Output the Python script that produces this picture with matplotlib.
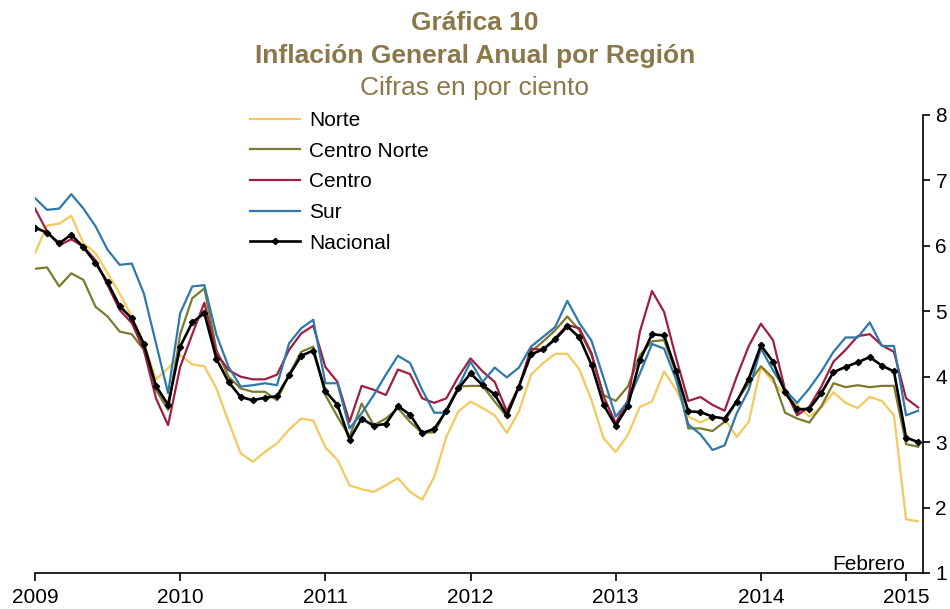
import numpy as np
import matplotlib
matplotlib.use('Agg')
import matplotlib.pyplot as plt

plt.rcParams['font.family'] = ['Liberation Sans', 'DejaVu Sans']

# monthly series, Jan 2009 - Feb 2015
years = ['2009', '2010', '2011', '2012', '2013', '2014', '2015']

norte = [5.89, 6.31, 6.34, 6.46, 6.04, 5.89, 5.58, 5.27, 4.92, 4.51, 3.96, 4.13,
         4.33, 4.19, 4.16, 3.82, 3.31, 2.83, 2.70, 2.85, 2.98, 3.19, 3.36, 3.33,
         2.92, 2.73, 2.34, 2.28, 2.24, 2.34, 2.45, 2.24, 2.12, 2.47, 3.08, 3.47,
         3.62, 3.52, 3.41, 3.14, 3.47, 4.03, 4.21, 4.35, 4.35, 4.11, 3.64, 3.06,
         2.85, 3.11, 3.54, 3.62, 4.08, 3.80, 3.39, 3.30, 3.39, 3.36, 3.08, 3.31,
         4.15, 3.92, 3.72, 3.57, 3.39, 3.53, 3.76, 3.60, 3.52, 3.69, 3.63, 3.41,
         1.82, 1.79]

centro_norte = [5.65, 5.67, 5.38, 5.58, 5.48, 5.07, 4.92, 4.69, 4.65, 4.41, 3.80, 3.49,
                4.65, 5.20, 5.35, 4.41, 4.00, 3.82, 3.77, 3.77, 3.64, 4.03, 4.38, 4.46,
                3.72, 3.39, 3.08, 3.59, 3.26, 3.36, 3.52, 3.31, 3.14, 3.15, 3.49, 3.85,
                3.86, 3.86, 3.62, 3.39, 3.85, 4.38, 4.54, 4.71, 4.92, 4.71, 4.33, 3.72,
                3.63, 3.85, 4.33, 4.54, 4.56, 4.05, 3.21, 3.21, 3.17, 3.31, 3.63, 3.90,
                4.16, 3.98, 3.45, 3.36, 3.30, 3.55, 3.90, 3.84, 3.87, 3.84, 3.86, 3.86,
                2.97, 2.93]

centro = [6.57, 6.22, 6.01, 6.10, 5.99, 5.78, 5.40, 5.02, 4.82, 4.41, 3.67, 3.26,
          4.15, 4.65, 5.13, 4.36, 4.10, 4.00, 3.96, 3.96, 4.03, 4.41, 4.66, 4.78,
          4.15, 3.92, 3.31, 3.86, 3.80, 3.72, 4.11, 4.04, 3.67, 3.60, 3.67, 4.00,
          4.28, 4.08, 3.92, 3.47, 3.85, 4.43, 4.41, 4.59, 4.79, 4.74, 4.36, 3.70,
          3.29, 3.64, 4.69, 5.31, 4.99, 4.28, 3.63, 3.69, 3.57, 3.48, 4.00, 4.47,
          4.81, 4.56, 3.80, 3.41, 3.54, 3.85, 4.23, 4.41, 4.62, 4.65, 4.48, 4.38,
          3.67, 3.53]

sur = [6.73, 6.55, 6.57, 6.79, 6.57, 6.30, 5.94, 5.71, 5.73, 5.27, 4.51, 3.75,
       4.97, 5.38, 5.40, 4.64, 4.15, 3.85, 3.87, 3.90, 3.87, 4.51, 4.74, 4.87,
       3.90, 3.90, 3.21, 3.44, 3.72, 4.03, 4.32, 4.21, 3.80, 3.45, 3.45, 3.85,
       4.23, 3.92, 4.14, 3.99, 4.14, 4.46, 4.61, 4.76, 5.16, 4.82, 4.55, 3.98,
       3.39, 3.62, 4.05, 4.50, 4.43, 3.95, 3.27, 3.12, 2.88, 2.95, 3.44, 3.80,
       4.43, 4.10, 3.80, 3.60, 3.82, 4.08, 4.38, 4.60, 4.60, 4.83, 4.47, 4.47,
       3.41, 3.48]

nacional = [6.28, 6.20, 6.04, 6.17, 5.98, 5.74, 5.44, 5.08, 4.89, 4.50, 3.86, 3.57,
            4.46, 4.83, 4.97, 4.27, 3.92, 3.69, 3.64, 3.68, 3.70, 4.02, 4.32, 4.40,
            3.78, 3.57, 3.04, 3.36, 3.25, 3.28, 3.55, 3.42, 3.14, 3.20, 3.48, 3.82,
            4.05, 3.87, 3.73, 3.41, 3.85, 4.34, 4.42, 4.57, 4.77, 4.60, 4.18, 3.57,
            3.25, 3.55, 4.25, 4.65, 4.63, 4.09, 3.47, 3.46, 3.39, 3.36, 3.62, 3.97,
            4.48, 4.23, 3.76, 3.50, 3.51, 3.75, 4.07, 4.15, 4.22, 4.30, 4.17, 4.08,
            3.07, 3.00]

months = np.arange(len(nacional))
title_color = '#8B7748'

fig = plt.figure(figsize=(9.5, 6.09), dpi=100)
ax = fig.add_axes([35 / 950, 1 - 573 / 609, 888 / 950, 458 / 609])

ax.plot(months, norte, color='#F4C95D', linewidth=1.6, label='Norte')
ax.plot(months, centro_norte, color='#7B7B2E', linewidth=1.6, label='Centro Norte')
ax.plot(months, centro, color='#9E1F45', linewidth=1.6, label='Centro')
ax.plot(months, sur, color='#2F78AA', linewidth=1.6, label='Sur')
ax.plot(months, nacional, color='black', linewidth=1.9, marker='D', markersize=3.2,
        label='Nacional')

ax.set_xlim(0, 73.4)
ax.set_ylim(1, 8)
ax.set_xticks(np.arange(0, 73, 12))
ax.set_xticklabels(years)
ax.set_yticks(range(1, 9))
ax.yaxis.tick_right()

for s in ['left', 'top']:
    ax.spines[s].set_visible(False)
for s in ['bottom', 'right']:
    ax.spines[s].set_linewidth(1.2)
ax.tick_params(axis='x', direction='out', length=6, width=1.2, labelsize=15, pad=5)
ax.tick_params(axis='y', direction='out', length=5, width=1.2, labelsize=15, pad=4)

ax.text(0.98, 0.007, 'Febrero', transform=ax.transAxes, ha='right', va='baseline',
        fontsize=15)

ax.legend(loc='upper left', bbox_to_anchor=(250 / 950, 1 - 111 / 609),
          bbox_transform=fig.transFigure, frameon=False, fontsize=15,
          handlelength=2.4, handletextpad=0.45, labelspacing=0.56, borderpad=0,
          borderaxespad=0)

fig.text(0.5, 1 - 23 / 609, 'Gráfica 10', ha='center', va='center', fontsize=19,
         fontweight='bold', color=title_color)
fig.text(0.5, 1 - 56 / 609, 'Inflación General Anual por Región', ha='center',
         va='center', fontsize=19, fontweight='bold', color=title_color)
fig.text(0.5, 1 - 88 / 609, 'Cifras en por ciento', ha='center', va='center',
         fontsize=19, color=title_color)

fig.savefig('out.png', dpi=100)
